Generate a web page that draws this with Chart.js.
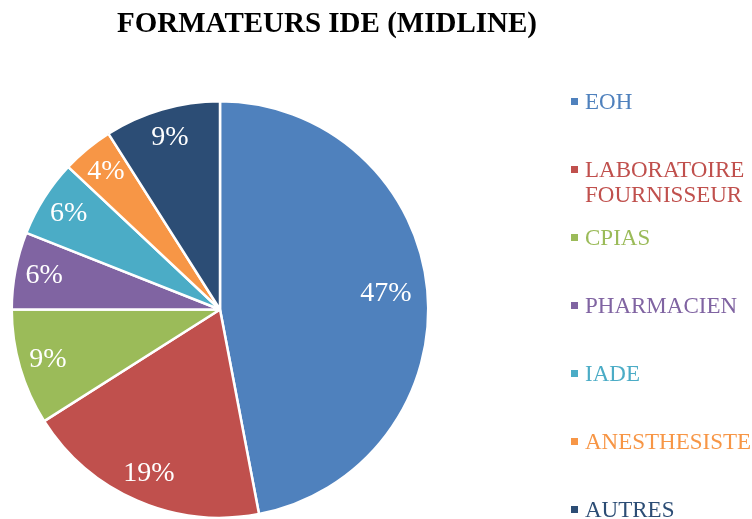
<!DOCTYPE html>
<html>
<head>
<meta charset="utf-8">
<script src="https://cdn.jsdelivr.net/npm/chart.js@4.4.1/dist/chart.umd.min.js"></script>
<style>
  html, body { margin: 0; padding: 0; background: #fff; }
  #wrap { position: relative; width: 752px; height: 519px; overflow: hidden; font-family: "Liberation Serif", "Times New Roman", serif; }
  #pie { position: absolute; left: 0; top: 0; }
  #title { position: absolute; left: 0; width: 654px; top: 5px; text-align: center; font-weight: bold; font-size: 29px; line-height: 34px; color: #000; }
  .item { position: absolute; left: 571px; font-size: 23px; line-height: 25px; white-space: nowrap; }
  .item .sq { position: absolute; left: 0; top: 9px; width: 7px; height: 7px; }
  .item .tx { position: absolute; left: 14px; top: 0; }
</style>
</head>
<body>
<div id="wrap">
  <canvas id="pie" width="752" height="519"></canvas>
  <div id="title">FORMATEURS IDE (MIDLINE)</div>
  <div id="legend"></div>
</div>
<script>
const categories = ['EOH', ['LABORATOIRE', 'FOURNISSEUR'], 'CPIAS', 'PHARMACIEN', 'IADE', 'ANESTHESISTE', 'AUTRES'];
const values = [47, 19, 9, 6, 6, 4, 9];
const colors = ['#4F81BD', '#C0504D', '#9BBB59', '#8064A2', '#4BACC6', '#F79646', '#2C4D75'];

// legend built from the same arrays
const legend = document.getElementById('legend');
categories.forEach((c, i) => {
  const d = document.createElement('div');
  d.className = 'item';
  d.style.top = (102 + 68 * i - 13) + 'px';
  d.style.color = colors[i];
  d.innerHTML = '<span class="sq" style="background:' + colors[i] + '"></span><span class="tx">' +
    (Array.isArray(c) ? c.join('<br>') : c) + '</span>';
  legend.appendChild(d);
});

const pctLabels = {
  id: 'pctLabels',
  afterDatasetsDraw(chart) {
    const ctx = chart.ctx;
    const meta = chart.getDatasetMeta(0);
    const total = values.reduce((a, b) => a + b, 0);
    ctx.save();
    ctx.fillStyle = '#fff';
    ctx.font = '28px "Liberation Serif", serif';
    ctx.textAlign = 'center';
    ctx.textBaseline = 'middle';
    meta.data.forEach((arc, i) => {
      const p = arc.getProps(['x', 'y', 'startAngle', 'endAngle', 'outerRadius'], true);
      const mid = (p.startAngle + p.endAngle) / 2;
      const r = p.outerRadius * (values[i] > 30 ? 0.8 : 0.86);
      ctx.fillText(Math.round(values[i] / total * 100) + '%', p.x + Math.cos(mid) * r, p.y + Math.sin(mid) * r);
    });
    ctx.restore();
  }
};

new Chart(document.getElementById('pie').getContext('2d'), {
  type: 'pie',
  data: {
    labels: categories.map(c => Array.isArray(c) ? c.join(' ') : c),
    datasets: [{
      data: values,
      backgroundColor: colors,
      borderColor: '#fff',
      borderWidth: 2.5
    }]
  },
  options: {
    responsive: false,
    animation: false,
    layout: { padding: { left: 10, right: 322, top: 100, bottom: 0 } },
    plugins: {
      legend: { display: false },
      title: { display: false },
      tooltip: { enabled: false }
    }
  },
  plugins: [pctLabels]
});
</script>
</body>
</html>
